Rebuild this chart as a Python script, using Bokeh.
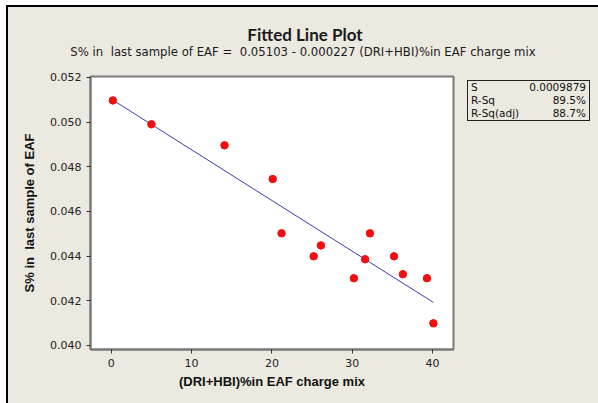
from bokeh.plotting import figure
from bokeh.models import Range1d, FixedTicker, PrintfTickFormatter, Div
from bokeh.layouts import row, column
from bokeh.embed import file_html
from bokeh.resources import INLINE
import numpy as np

# data
x_pct = [0.2, 5.0, 14.1, 20.1, 21.2, 25.2, 26.1, 30.2, 31.6, 32.2, 35.2, 36.3, 39.3, 40.1]
s_pct = [0.05097, 0.04990, 0.04896, 0.04745, 0.04502, 0.04399, 0.04448, 0.04301,
         0.04386, 0.04502, 0.04399, 0.04319, 0.04301, 0.04099]
intercept = 0.05103
slope = -0.000227
x_ticks = [0, 10, 20, 30, 40]
y_ticks = [0.040, 0.042, 0.044, 0.046, 0.048, 0.050, 0.052]
stat_names = ["S", "R-Sq", "R-Sq(adj)"]
stat_values = ["0.0009879", "89.5%", "88.7%"]
title_text = "Fitted Line Plot"
subtitle_text = "S% in&nbsp; last sample of EAF =&nbsp; 0.05103 - 0.000227 (DRI+HBI)%in EAF charge mix"
x_label = "(DRI+HBI)%in EAF charge mix"
y_label = "S% in\u00a0 last sample of EAF"

BG = "#ECE9E0"
FONT = "DejaVu Sans"
BFONT = "Liberation Sans"

TOP_H = 60

head = Div(width=590, height=TOP_H, margin=0,
           text=(f'<div style="width:590px;text-align:center;color:#1A1A1A;">'
                 f'<div style="position:absolute;left:0;top:18px;width:594px;text-align:center;'
                 f'font-family:Lato;font-weight:bold;font-size:17px;line-height:20px;">{title_text}</div>'
                 f'<div style="position:absolute;left:0;top:38px;width:590px;text-align:center;'
                 f'font-family:\'DejaVu Sans\';font-size:11.7px;line-height:14px;white-space:nowrap;">'
                 f'{subtitle_text}</div></div>'),
           styles={"background-color": BG})

p = figure(width=455, height=396 - TOP_H, output_backend="svg", toolbar_location=None,
           x_range=Range1d(-2.58, 42.6), y_range=Range1d(0.03982, 0.05204),
           min_border_left=82, min_border_right=10, min_border_top=76 - 7 - TOP_H,
           min_border_bottom=54,
           background_fill_color="white", border_fill_color=BG)
p.outline_line_color = "#7A7A7A"
p.outline_line_width = 2
p.grid.visible = False

for ax in (p.xaxis[0], p.yaxis[0]):
    ax.axis_line_color = "#7A7A7A"
    ax.axis_line_width = 2
    ax.major_tick_line_color = "#333333"
    ax.major_tick_out = 4
    ax.major_tick_in = 0
    ax.minor_tick_line_color = None
    ax.major_label_text_font = FONT
    ax.major_label_text_font_size = "11px"
    ax.major_label_text_color = "#222222"
    ax.axis_label_text_font = BFONT
    ax.axis_label_text_font_size = "13px"
    ax.axis_label_text_font_style = "bold"
    ax.axis_label_text_color = "#111111"

p.xaxis.ticker = FixedTicker(ticks=x_ticks)
p.yaxis.ticker = FixedTicker(ticks=y_ticks)
p.yaxis.formatter = PrintfTickFormatter(format="%.3f")
p.xaxis.axis_label = x_label
p.yaxis.axis_label = y_label
p.xaxis.axis_label_standoff = 4
p.yaxis.axis_label_standoff = 10

xs = np.array([min(x_pct), max(x_pct)])
p.line(xs, intercept + slope * xs, line_color="#3C3CB4", line_width=1)
p.scatter(x_pct, s_pct, size=7.5, fill_color="#F01010", line_color="#F01010")

rows_html = "".join(
    f'<tr><td style="text-align:left;padding:0 0 0 3px;">{n}</td>'
    f'<td style="text-align:right;padding:0 3px 0 0;">{v}</td></tr>'
    for n, v in zip(stat_names, stat_values))
box = Div(width=135, height=396 - TOP_H, margin=0,
          text=('<table style="border:1px solid #222;border-collapse:collapse;'
                'width:123px;margin:13px 0 0 4px;font-family:\'DejaVu Sans\';'
                'font-size:10.5px;color:#111;line-height:13px;">' + rows_html + '</table>'),
          styles={"background-color": BG})

layout = column(head, row(p, box),
                styles={"margin-left": "6px", "margin-top": "5px",
                        "border-left": "2px solid black", "border-top": "2px solid black",
                        "background-color": BG})

open("out.html", "w").write(file_html(layout, INLINE))
